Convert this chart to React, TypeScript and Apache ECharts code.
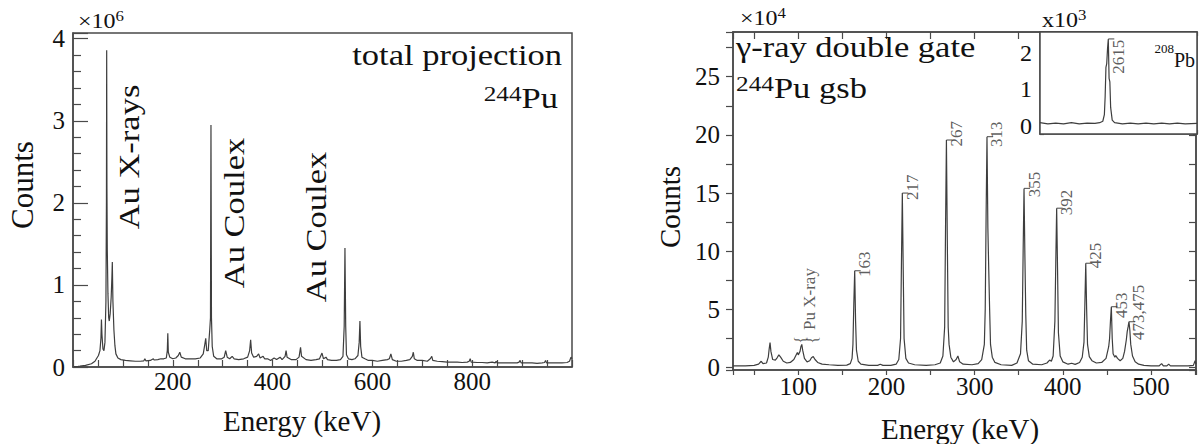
import React, { useEffect, useRef } from "react";
import * as echarts from "echarts";

const SERIF = '"Liberation Serif", "Times New Roman", Times, serif';
const AXIS_COLOR = "#4a4a4a";
const TEXT_COLOR = "#111111";
const LINE_COLOR = "#3e3e3e";
const LABEL_COLOR = "#333333";

// ---- Left panel: total projection (counts x10^6 vs keV)
const totalProjection: [number, number][] = [
  [2, 0.005], [10, 0.008], [14, 0.01], [25, 0.02], [37, 0.04], [44, 0.07], [47, 0.1], [51, 0.14],
  [54, 0.2], [56, 0.35], [57, 0.58], [58, 0.4], [60, 0.22], [62, 0.2], [64, 0.3], [66, 0.8],
  [67, 2.0], [67.5, 3.86], [68, 2.2], [68.7, 1.43], [70, 0.9], [71.5, 0.6], [72.7, 0.56], [74.5, 0.65],
  [76.5, 0.85], [78, 1.1], [78.8, 1.28], [80, 0.8], [82, 0.45], [84, 0.26], [86, 0.16], [90, 0.11],
  [96, 0.09], [105, 0.08], [115, 0.075], [125, 0.07], [135, 0.07], [142, 0.075], [144, 0.1], [146, 0.075],
  [155, 0.08], [161, 0.1], [163, 0.085], [170, 0.09], [176, 0.1], [182, 0.1], [187, 0.11], [189, 0.2],
  [190, 0.41], [191, 0.18], [194, 0.12], [200, 0.1], [206, 0.11], [211, 0.14], [214, 0.18], [217, 0.12],
  [225, 0.1], [235, 0.1], [245, 0.1], [255, 0.11], [261, 0.16], [264, 0.27], [266, 0.35], [268, 0.2],
  [271, 0.2], [274, 0.45], [275.5, 0.6], [276.5, 2.95], [277.5, 0.6], [279, 0.25], [282, 0.13], [288, 0.1],
  [298, 0.1], [303, 0.12], [306, 0.2], [309, 0.12], [314, 0.1], [319, 0.13], [323, 0.1], [332, 0.09],
  [342, 0.1], [350, 0.12], [354, 0.2], [356, 0.33], [358, 0.17], [362, 0.12], [368, 0.13], [372, 0.16],
  [375, 0.11], [381, 0.13], [384, 0.1], [390, 0.1], [396, 0.08], [403, 0.11], [408, 0.09], [415, 0.12],
  [419, 0.09], [425, 0.13], [427, 0.2], [429, 0.12], [437, 0.09], [447, 0.09], [453, 0.12], [456, 0.24],
  [458, 0.13], [467, 0.09], [477, 0.08], [487, 0.09], [494, 0.1], [499, 0.17], [502, 0.1], [507, 0.12],
  [510, 0.09], [518, 0.08], [528, 0.08], [536, 0.09], [541, 0.13], [543.5, 0.5], [545, 1.45], [546.5, 0.5],
  [548, 0.15], [552, 0.1], [559, 0.09], [565, 0.1], [571, 0.14], [573.5, 0.3], [575, 0.56], [576.5, 0.25],
  [579, 0.12], [585, 0.1], [592, 0.08], [600, 0.08], [610, 0.07], [620, 0.08], [630, 0.09], [634, 0.1],
  [637, 0.16], [640, 0.09], [648, 0.07], [658, 0.07], [668, 0.08], [675, 0.09], [680, 0.13], [682, 0.18],
  [684, 0.1], [690, 0.08], [700, 0.08], [710, 0.07], [716, 0.1], [719, 0.13], [721, 0.08], [730, 0.07],
  [740, 0.065], [750, 0.06], [760, 0.06], [770, 0.06], [780, 0.055], [790, 0.06], [794, 0.07], [796, 0.1],
  [798, 0.06], [810, 0.055], [820, 0.055], [830, 0.05], [840, 0.06], [846, 0.05], [848, 0.07], [850, 0.05],
  [860, 0.05], [870, 0.05], [880, 0.05], [890, 0.05], [894, 0.06], [896, 0.08], [898, 0.05], [910, 0.05],
  [920, 0.05], [930, 0.045], [940, 0.05], [945, 0.055], [947, 0.08], [949, 0.05], [960, 0.05], [970, 0.05],
  [980, 0.05], [990, 0.055], [995, 0.07], [998, 0.12], [1000, 0.1],
];

// ---- Right panel: gamma-ray double gate (counts x10^4 vs keV)
const gateSpectrum: [number, number][] = [
  [26, 0.15], [40, 0.15], [50, 0.2], [55, 0.3], [58, 0.55], [60, 0.35], [64, 0.4], [66, 0.9],
  [67, 1.6], [68, 2.15], [69, 1.4], [71, 0.7], [74, 0.65], [76, 0.85], [78, 1.1], [80, 0.9],
  [83, 0.55], [87, 0.4], [91, 0.45], [95, 0.7], [97, 1.0], [99, 1.3], [100, 1.1], [102, 1.4],
  [103, 1.8], [104, 2.0], [105, 1.5], [107, 0.8], [110, 0.5], [113, 0.6], [115, 0.85], [117, 0.95],
  [119, 0.7], [122, 0.45], [127, 0.3], [135, 0.25], [145, 0.2], [155, 0.22], [159, 0.35], [161, 0.8],
  [162, 2.0], [163, 5.5], [164, 8.33], [165, 4.0], [166, 1.5], [168, 0.55], [171, 0.3], [180, 0.2],
  [190, 0.2], [193, 0.3], [196, 0.2], [205, 0.2], [211, 0.3], [214, 0.7], [216, 2.5], [217, 9],
  [218, 15.0], [219, 8.5], [220, 2.5], [222, 0.8], [225, 0.4], [232, 0.25], [245, 0.2], [255, 0.25],
  [261, 0.4], [264, 1.0], [266, 3.5], [267, 12], [268, 19.56], [269, 11], [270, 3.5], [271, 2.0],
  [273, 0.9], [276, 0.5], [279, 0.7], [281, 1.0], [283, 0.5], [287, 0.3], [297, 0.25], [304, 0.35],
  [308, 0.7], [311, 2.0], [312, 5], [313, 13], [314, 19.85], [315, 12], [316, 8.4], [317, 5],
  [318, 2.0], [320, 0.9], [323, 0.45], [330, 0.25], [342, 0.2], [348, 0.4], [352, 1.2], [354, 4],
  [355, 10], [356, 15.4], [357, 9.5], [358, 4.5], [359, 1.5], [361, 0.6], [366, 0.3], [376, 0.25],
  [382, 0.4], [385, 0.65], [387, 0.55], [389, 1.0], [391, 4], [392, 9], [393, 13.7], [394, 8.5],
  [395, 3], [397, 1.0], [400, 0.5], [406, 0.3], [410, 0.38], [414, 0.28], [419, 0.45], [422, 0.9],
  [424, 2.2], [425, 5.5], [426, 8.97], [427, 5], [428, 2], [430, 0.95], [433, 0.6], [438, 0.4],
  [444, 0.45], [449, 0.8], [452, 1.8], [453, 2.5], [454, 4.0], [455, 5.24], [456, 2.5], [457, 1.2],
  [459, 0.9], [460, 1.05], [462, 0.8], [465, 0.6], [468, 0.8], [470, 1.4], [472, 2.4], [473, 3.1],
  [474, 3.5], [475, 3.95], [476, 3.2], [477, 2.0], [479, 1.0], [482, 0.5], [486, 0.3], [492, 0.2],
  [500, 0.15], [509, 0.15], [512, 0.35], [514, 0.15], [518, 0.15], [520, 0.3], [522, 0.15], [532, 0.15],
  [542, 0.15], [548, 0.2], [550, 0.6], [551, 0.3],
];

// ---- Inset: 208Pb 2615 keV line (counts x10^3)
const insetSpectrum: [number, number][] = [
  [2530, 0.08], [2540, 0.05], [2550, 0.07], [2560, 0.05], [2570, 0.08], [2580, 0.05], [2590, 0.07],
  [2600, 0.06], [2606, 0.08], [2610, 0.12], [2612, 0.3], [2613, 0.8], [2614, 1.6], [2615, 1.7],
  [2616, 2.1], [2617, 2.38], [2618, 1.3], [2619, 1.2], [2620, 0.5], [2622, 0.15], [2625, 0.08],
  [2635, 0.05], [2645, 0.07], [2655, 0.05], [2665, 0.07], [2675, 0.05], [2685, 0.07], [2695, 0.05],
  [2705, 0.07], [2715, 0.05], [2730, 0.06],
];

// ---- Peak labels (right panel)
const peakEnergies = [164, 218, 268, 314, 356, 393, 426, 455, 475];
const peakTops = [8.33, 15.0, 19.56, 19.85, 15.4, 13.7, 8.97, 5.24, 3.95];
const peakNames = ["163", "217", "267", "313", "355", "392", "425", "453", "473,475"];
const peakLabelLevels = [7.8, 14.4, 19.0, 18.95, 14.65, 13.1, 8.55, 4.26, 2.38];

const xrayLabelEnergies = [101];
const xrayLabelNames = ["Pu X-ray"];
const xrayLabelLevels = [3.24];
const braceEnergies = [103, 116];
const braceLevels = [2.38, 2.38];

const insetPeakEnergies = [2617];
const insetPeakTops = [2.38];
const insetPeakNames = ["2615"];
const insetPeakLevels = [2.36];

// ---- Tick labels
const leftXTickLabels = [200, 400, 600, 800];
const leftYTickLabels = [0, 1, 2, 3, 4];
const rightXTickLabels = [100, 200, 300, 400, 500];
const rightYTickLabels = [0, 5, 10, 15, 20, 25];
const insetYTickLabels = [0, 1, 2];

const onlyLabels = (list: number[]) => (v: number) =>
  list.some((t) => Math.abs(t - v) < 1e-9) ? String(v) : "";

const tickStyle = { color: AXIS_COLOR, width: 1.2 };
const axisLineStyle = { show: true, onZero: false, lineStyle: { color: AXIS_COLOR, width: 1.5 } };
const tickFont = { fontFamily: SERIF, fontSize: 25, color: TEXT_COLOR };

function buildOption(): any {
  const labelSeries = (
    xIdx: number,
    energies: number[],
    names: string[],
    levels: number[],
    label: any
  ) => ({
    type: "scatter",
    xAxisIndex: xIdx,
    yAxisIndex: xIdx,
    symbolSize: 1,
    silent: true,
    z: 5,
    itemStyle: { color: "rgba(0,0,0,0)" },
    data: names.map((n, i) => ({ name: n, value: [energies[i], levels[i]] })),
    label: {
      show: true,
      formatter: (p: any) => p.name,
      fontFamily: SERIF,
      color: LABEL_COLOR,
      ...label,
    },
  });

  // short horizontal leader at each labelled peak top
  const leaderSeries = (xIdx: number, energies: number[], tops: number[]) => ({
    type: "scatter",
    xAxisIndex: xIdx,
    yAxisIndex: xIdx,
    silent: true,
    z: 4,
    symbol: "rect",
    symbolSize: [6, 1.2],
    symbolOffset: [3, 0],
    itemStyle: { color: LINE_COLOR },
    data: energies.map((e, i) => [e, tops[i]]),
  });

  const richSup = (base: number, baseLH: number, sup: number, supLH: number) => ({
    a: { fontSize: base, fontFamily: SERIF, lineHeight: baseLH, verticalAlign: "bottom", fill: TEXT_COLOR },
    s: { fontSize: sup, fontFamily: SERIF, lineHeight: supLH, verticalAlign: "top", fill: TEXT_COLOR },
  });

  const text = (x: number, y: number, str: string, extra: any = {}, el: any = {}) => ({
    type: "text",
    x,
    y,
    z: 20,
    silent: true,
    ...el,
    style: {
      text: str,
      fontFamily: SERIF,
      fill: TEXT_COLOR,
      textAlign: "center",
      textVerticalAlign: "middle",
      ...extra,
    },
  });

  return {
    animation: false,
    backgroundColor: "#ffffff",
    grid: [
      { left: 73, top: 33, width: 499, height: 334, show: true, borderColor: AXIS_COLOR, borderWidth: 1.5 },
      { left: 733, top: 32, width: 464, height: 338, show: true, borderColor: AXIS_COLOR, borderWidth: 1.5 },
      {
        left: 1040, top: 32, width: 157, height: 102, show: true, borderColor: AXIS_COLOR,
        borderWidth: 1.5, backgroundColor: "#ffffff", z: 3,
      },
    ],
    xAxis: [
      {
        gridIndex: 0, type: "value", min: 0, max: 1000, interval: 50,
        axisLine: axisLineStyle,
        axisTick: { inside: true, length: 7, lineStyle: tickStyle },
        axisLabel: { ...tickFont, margin: 2, formatter: onlyLabels(leftXTickLabels) },
        splitLine: { show: false },
      },
      {
        gridIndex: 1, type: "value", min: 26, max: 551, splitNumber: 10,
        axisLine: axisLineStyle,
        axisTick: { inside: false, length: 5, lineStyle: tickStyle },
        axisLabel: { ...tickFont, margin: 4, formatter: onlyLabels(rightXTickLabels) },
        splitLine: { show: false },
      },
      {
        gridIndex: 1, type: "value", position: "top", min: 26, max: 551, splitNumber: 10,
        axisLine: axisLineStyle,
        axisTick: { inside: true, length: 7, lineStyle: tickStyle },
        axisLabel: { show: false },
        splitLine: { show: false },
      },
      {
        gridIndex: 2, type: "value", min: 2530, max: 2730, splitNumber: 4,
        axisLine: axisLineStyle,
        axisTick: { inside: true, length: 4, lineStyle: tickStyle },
        axisLabel: { show: false },
        splitLine: { show: false },
      },
      {
        gridIndex: 2, type: "value", position: "top", min: 2530, max: 2730, splitNumber: 4,
        axisLine: axisLineStyle,
        axisTick: { inside: true, length: 4, lineStyle: tickStyle },
        axisLabel: { show: false },
        splitLine: { show: false },
      },
    ],
    yAxis: [
      {
        gridIndex: 0, type: "value", min: 0, max: 4.07, splitNumber: 4,
        axisLine: axisLineStyle,
        axisTick: { inside: true, length: 15, lineStyle: tickStyle },
        minorTick: { show: true, splitNumber: 5, length: 8, lineStyle: tickStyle },
        axisLabel: { ...tickFont, margin: 8, formatter: onlyLabels(leftYTickLabels) },
        splitLine: { show: false },
      },
      {
        gridIndex: 1, type: "value", min: -0.2, max: 28.84, splitNumber: 6,
        axisLine: axisLineStyle,
        axisTick: { inside: false, length: 7, lineStyle: tickStyle },
        minorTick: { show: true, splitNumber: 2, length: 7, lineStyle: tickStyle },
        axisLabel: { ...tickFont, margin: 13, formatter: onlyLabels(rightYTickLabels) },
        splitLine: { show: false },
      },
      {
        gridIndex: 1, type: "value", position: "right", min: -0.2, max: 28.84, splitNumber: 6,
        axisLine: axisLineStyle,
        axisTick: { inside: true, length: 7, lineStyle: tickStyle },
        minorTick: { show: true, splitNumber: 2, length: 7, lineStyle: tickStyle },
        axisLabel: { show: false },
        splitLine: { show: false },
      },
      {
        gridIndex: 2, type: "value", min: -0.23, max: 2.57, splitNumber: 3,
        axisLine: axisLineStyle,
        axisTick: { inside: true, length: 4, lineStyle: tickStyle },
        axisLabel: { ...tickFont, fontSize: 24, margin: 8, formatter: onlyLabels(insetYTickLabels) },
        splitLine: { show: false },
      },
      {
        gridIndex: 2, type: "value", position: "right", min: -0.23, max: 2.57, splitNumber: 3,
        axisLine: axisLineStyle,
        axisTick: { inside: true, length: 4, lineStyle: tickStyle },
        axisLabel: { show: false },
        splitLine: { show: false },
      },
    ],
    series: [
      {
        type: "line", xAxisIndex: 0, yAxisIndex: 0, data: totalProjection,
        symbol: "none", silent: true, lineStyle: { color: LINE_COLOR, width: 1.2 },
      },
      {
        type: "line", xAxisIndex: 1, yAxisIndex: 1, data: gateSpectrum,
        symbol: "none", silent: true, lineStyle: { color: LINE_COLOR, width: 1.2 },
      },
      {
        type: "line", xAxisIndex: 3, yAxisIndex: 3, data: insetSpectrum, z: 4,
        symbol: "none", silent: true, lineStyle: { color: LINE_COLOR, width: 1.2 },
      },
      leaderSeries(1, peakEnergies, peakTops),
      leaderSeries(3, insetPeakEnergies, insetPeakTops),
      labelSeries(1, peakEnergies, peakNames, peakLabelLevels, {
        rotate: 90, position: [2, 0.5], align: "left", verticalAlign: "top", fontSize: 17,
      }),
      labelSeries(1, xrayLabelEnergies, xrayLabelNames, xrayLabelLevels, {
        rotate: 90, position: [2, 0.5], align: "left", verticalAlign: "top", fontSize: 17,
      }),
      labelSeries(1, braceEnergies, ["{", "{"], braceLevels, {
        rotate: 90, position: [0.5, 0.5], align: "center", verticalAlign: "middle", fontSize: 16,
      }),
      labelSeries(3, insetPeakEnergies, insetPeakNames, insetPeakLevels, {
        rotate: 90, position: [2, 0.5], align: "right", verticalAlign: "top", fontSize: 17,
      }),
    ],
    graphic: [
      // left panel
      text(78, 20, "{a|×10}{s|6}", { textAlign: "left", rich: richSup(20, 22, 14, 16) }, { scaleX: 1.2 }),
      text(562, 55, "total projection", { textAlign: "right", fontSize: 30 }, { scaleX: 1.15 }),
      text(558, 98, "{s|244}{a|Pu}", { textAlign: "right", rich: richSup(30, 30, 22, 22) }, { scaleX: 1.15 }),
      text(129, 157, "Au X-rays", { fontSize: 30 }, { rotation: Math.PI / 2, scaleX: 1.15 }),
      text(234, 213, "Au Coulex", { fontSize: 30 }, { rotation: Math.PI / 2, scaleX: 1.15 }),
      text(315.5, 227, "Au Coulex", { fontSize: 30 }, { rotation: Math.PI / 2, scaleX: 1.15 }),
      text(22.5, 185, "Counts", { fontSize: 31 }, { rotation: Math.PI / 2 }),
      text(302, 421, "Energy (keV)", { fontSize: 29 }),
      // right panel
      text(740, 17, "{a|×10}{s|4}", { textAlign: "left", rich: richSup(20, 22, 14, 16) }, { scaleX: 1.2 }),
      text(736, 47, "γ-ray double gate", { textAlign: "left", fontSize: 30 }, { scaleX: 1.15 }),
      text(736, 88, "{s|244}{a|Pu gsb}", { textAlign: "left", rich: richSup(30, 30, 22, 22) }, { scaleX: 1.15 }),
      text(670, 207, "Counts", { fontSize: 29 }, { rotation: Math.PI / 2 }),
      text(960, 429, "Energy (keV)", { fontSize: 29 }),
      // inset
      text(1042, 19, "{a|x10}{s|3}", { textAlign: "left", rich: richSup(20, 22, 14, 16) }, { scaleX: 1.2 }),
      text(1195, 56, "{s|208}{a|Pb}", { textAlign: "right", rich: richSup(20, 28, 13, 13) }),
    ],
  };
}

export default function App() {
  const ref = useRef<HTMLDivElement>(null);
  useEffect(() => {
    if (!ref.current) return;
    const chart = echarts.init(ref.current, null, { renderer: "svg" });
    chart.setOption(buildOption());
    return () => chart.dispose();
  }, []);
  return (
    <div
      ref={ref}
      style={{ position: "fixed", left: 0, top: 0, width: 1199, height: 444, background: "#fff" }}
    />
  );
}
